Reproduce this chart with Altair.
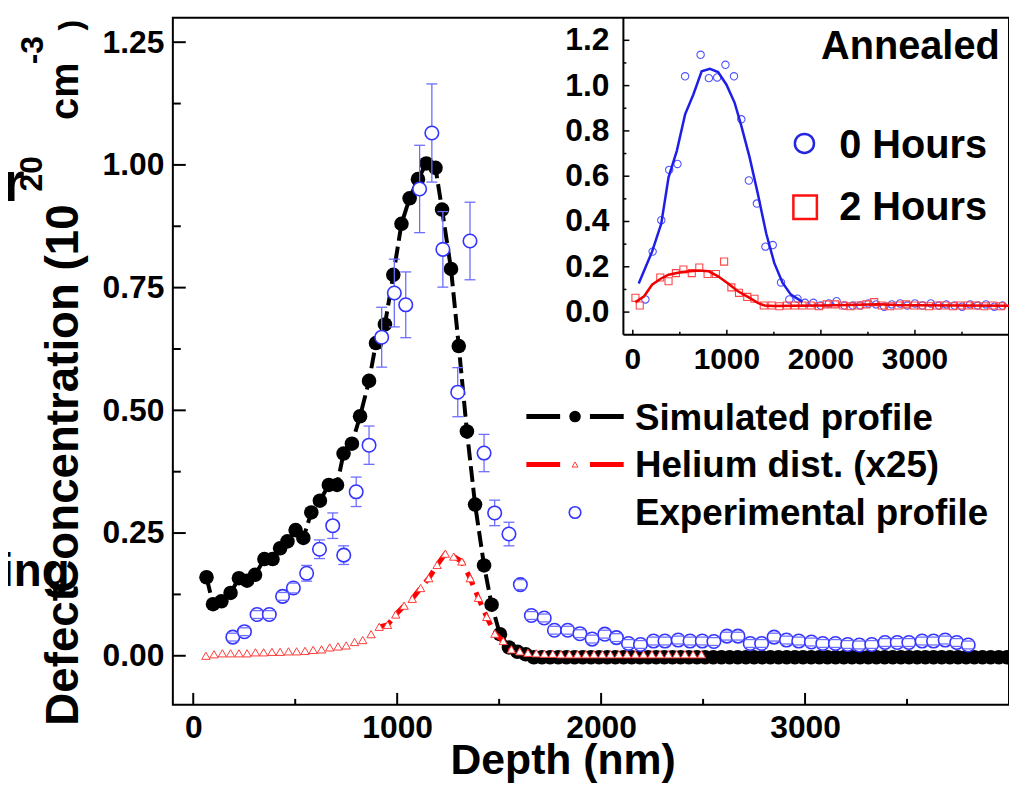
import altair as alt
import pandas as pd

FONT = "Liberation Sans"

# ---------------- main chart data ----------------
sim_x = [65, 97, 138, 183, 224, 264, 303, 349, 389, 426, 462, 502, 540, 579, 621, 665, 705, 737,
         778, 818, 862, 896, 940, 981, 1021, 1061, 1102, 1143, 1188, 1220, 1264, 1302, 1342, 1382,
         1426, 1463, 1504, 1548, 1590, 1630,
         1670, 1710, 1750, 1790, 1830, 1870, 1910, 1950, 1990, 2030, 2070, 2110, 2150, 2190, 2230,
         2270, 2310, 2350, 2390, 2430, 2470, 2510, 2550, 2590, 2630, 2670, 2710, 2750, 2790, 2830,
         2870, 2910, 2950, 2990, 3030, 3070, 3110, 3150, 3190, 3230, 3270, 3310, 3350, 3390, 3430,
         3470, 3510, 3550, 3590, 3630, 3670, 3710, 3750, 3790, 3830, 3870, 3910, 3950, 3990]
sim_y = [0.160, 0.105, 0.111, 0.128, 0.158, 0.153, 0.165, 0.197, 0.197, 0.219, 0.233, 0.256, 0.240,
         0.292, 0.316, 0.348, 0.348, 0.412, 0.432, 0.488, 0.560, 0.637, 0.675, 0.776, 0.880, 0.932,
         0.971, 1.003, 0.994, 0.909, 0.788, 0.631, 0.457, 0.308, 0.184, 0.104, 0.044, 0.017, 0.008,
         0.003,
         -0.003, -0.003, -0.003, -0.003, -0.003, -0.003, -0.003, -0.003, -0.003, -0.003, -0.003,
         -0.003, -0.003, -0.003, -0.003, -0.003, -0.003, -0.003, -0.003, -0.003, -0.003, -0.003,
         -0.003, -0.003, -0.003, -0.003, -0.003, -0.003, -0.003, -0.003, -0.003, -0.003, -0.003,
         -0.003, -0.003, -0.003, -0.003, -0.003, -0.003, -0.003, -0.003, -0.003, -0.003, -0.003,
         -0.003, -0.003, -0.003, -0.003, -0.003, -0.003, -0.003, -0.003, -0.003, -0.003, -0.003,
         -0.003, -0.003, -0.003, -0.003]

he_x = [62, 102, 143, 183, 224, 264, 305, 345, 386, 426, 467, 507, 548, 588, 629, 669, 710, 750,
        791, 831, 872, 912, 953, 993, 1034, 1074, 1115, 1155, 1196, 1236, 1277, 1317, 1358, 1398,
        1439, 1479, 1520, 1560, 1601, 1641, 1682, 1722, 1763, 1803, 1844, 1884, 1925, 1965, 2006,
        2046, 2087, 2127, 2168, 2208, 2249, 2289, 2330, 2370, 2411, 2451, 2492]
he_y = [0.000, 0.003, 0.005, 0.005, 0.005, 0.005, 0.007, 0.007, 0.008, 0.008, 0.009, 0.009, 0.010,
        0.012, 0.013, 0.017, 0.019, 0.021, 0.028, 0.032, 0.044, 0.059, 0.063, 0.084, 0.102, 0.116,
        0.138, 0.158, 0.185, 0.208, 0.202, 0.192, 0.158, 0.118, 0.079, 0.045, 0.030, 0.013, 0.009,
        0.006, 0.005, 0.004, 0.004, 0.003, 0.003, 0.003, 0.003, 0.003, 0.003, 0.003, 0.003, 0.003,
        0.003, 0.003, 0.003, 0.003, 0.003, 0.003, 0.003, 0.003, 0.003]
# the dashed helium curve is only visible where it leaves the markers
he_line_x = [912, 953, 993, 1034, 1074, 1115, 1155, 1196, 1236, 1277, 1317, 1358, 1398, 1439,
             1479, 1520, 1560]
he_line_y = [0.059, 0.063, 0.084, 0.102, 0.116, 0.138, 0.158, 0.185, 0.208, 0.202, 0.192, 0.158,
             0.118, 0.079, 0.045, 0.030, 0.013]

ex_x = [194, 251, 313, 373, 438, 491, 556, 619, 684, 738, 799, 862, 924, 986, 1042, 1110, 1170,
        1224, 1297, 1357, 1426, 1478, 1548, 1604, 1658, 1721, 1771, 1836, 1896, 1956, 2018, 2075,
        2134, 2193, 2257, 2313, 2378, 2436, 2496, 2553, 2617, 2671, 2731, 2787, 2848, 2909, 2969,
        3031, 3087, 3149, 3209, 3266, 3327, 3392, 3452, 3509, 3574, 3630, 3687, 3744, 3800]
ex_y = [0.038, 0.049, 0.084, 0.084, 0.121, 0.138, 0.168, 0.217, 0.265, 0.205, 0.334, 0.429,
        0.649, 0.739, 0.715, 0.951, 1.065, 0.828, 0.537, 0.845, 0.413, 0.291, 0.248, 0.145,
        0.082, 0.077, 0.052, 0.052, 0.045, 0.034, 0.044, 0.037, 0.025, 0.023, 0.030, 0.030,
        0.032, 0.030, 0.030, 0.029, 0.040, 0.040, 0.025, 0.025, 0.038, 0.032, 0.030, 0.028,
        0.025, 0.025, 0.023, 0.022, 0.023, 0.027, 0.027, 0.027, 0.030, 0.030, 0.032, 0.027, 0.022]
ex_err = [0.008, 0.008, 0.008, 0.008, 0.008, 0.010, 0.016, 0.019, 0.026, 0.019, 0.030, 0.039,
          0.061, 0.069, 0.067, 0.089, 0.100, 0.077, 0.050, 0.079, 0.038, 0.026, 0.024, 0.010,
          0.008, 0.008, 0.008, 0.008, 0.008, 0.008, 0.008, 0.008, 0.008, 0.008, 0.008, 0.008,
          0.008, 0.008, 0.008, 0.008, 0.008, 0.008, 0.008, 0.008, 0.008, 0.008, 0.008, 0.008,
          0.008, 0.008, 0.008, 0.008, 0.008, 0.008, 0.008, 0.008, 0.008, 0.008, 0.008, 0.008, 0.008]

main_x_ticks = [0, 1000, 2000, 3000]
main_x_minor = [500, 1500, 2500, 3500]
main_y_ticks = [0.0, 0.25, 0.5, 0.75, 1.0, 1.25]
main_y_minor = [0.125, 0.375, 0.625, 0.875, 1.125]

legend_labels = ["Simulated profile", "Helium dist. (x25)", "Experimental profile"]

# ---------------- inset data ----------------
ib_x = [134, 211, 303, 387, 475, 556, 721, 809, 897, 985, 1076, 1154, 1234, 1319, 1410, 1488, 1576,
        1664, 1751, 1831, 1920, 1998, 2085, 2167, 2251, 2339, 2420, 2507, 2588, 2673, 2753, 2842,
        2919, 3000, 3080, 3169, 3256, 3334, 3422, 3502, 3586, 3668, 3755, 3844, 3931]
ib_y = [0.056, 0.267, 0.406, 0.628, 0.654, 1.041, 1.136, 1.033, 1.036, 1.092, 1.041, 0.851, 0.581,
        0.479, 0.289, 0.296, 0.131, 0.056, 0.059, 0.041, 0.041, 0.029, 0.038, 0.048, 0.029, 0.029,
        0.029, 0.038, 0.034, 0.024, 0.034, 0.038, 0.029, 0.038, 0.029, 0.038, 0.029, 0.034, 0.029,
        0.024, 0.034, 0.029, 0.034, 0.024, 0.029]
bf_x = [63, 205, 303, 380, 468, 556, 644, 732, 820, 907, 996, 1083, 1154, 1242, 1329, 1418, 1505,
        1593, 1681, 1804]
bf_y = [0.126, 0.267, 0.391, 0.595, 0.712, 0.873, 0.961, 1.063, 1.074, 1.060, 1.004, 0.924, 0.822,
        0.683, 0.523, 0.348, 0.216, 0.129, 0.077, 0.045]

ir_x = [28, 74, 292, 380, 458, 538, 627, 707, 795, 883, 971, 1048, 1129, 1217, 1294, 1392, 1477,
        1558, 1639, 1723, 1804, 1892, 1980, 2061, 2149, 2237, 2314, 2402, 2483, 2567, 2648, 2736,
        2824, 2905, 2989, 3070, 3150, 3235, 3316, 3404, 3481, 3562, 3650, 3738, 3826, 3914]
ir_y = [0.063, 0.029, 0.153, 0.136, 0.172, 0.188, 0.172, 0.197, 0.168, 0.168, 0.223, 0.109, 0.085,
        0.067, 0.059, 0.029, 0.029, 0.026, 0.029, 0.029, 0.029, 0.029, 0.026, 0.034, 0.034, 0.029,
        0.026, 0.029, 0.034, 0.044, 0.029, 0.026, 0.029, 0.034, 0.029, 0.029, 0.026, 0.029, 0.029,
        0.026, 0.029, 0.029, 0.029, 0.026, 0.029, 0.026]
rf_x = [28, 120, 205, 292, 380, 521, 697, 809, 907, 1013, 1118, 1224, 1329, 1400, 1500, 1700, 2000,
        2300, 2500, 2600, 2800, 3000, 3500, 4000]
rf_y = [0.044, 0.070, 0.121, 0.146, 0.165, 0.177, 0.184, 0.180, 0.158, 0.126, 0.092, 0.067, 0.041,
        0.029, 0.027, 0.028, 0.029, 0.031, 0.034, 0.035, 0.031, 0.030, 0.029, 0.028]

in_x_ticks = [0, 1000, 2000, 3000]
in_x_minor = [500, 1500, 2500, 3500]
in_y_ticks = [0.0, 0.2, 0.4, 0.6, 0.8, 1.0, 1.2]
in_y_labels = ["0.0", "0.2", "0.4", "0.6", "0.8", "1.0", "1.2"]
in_y_minor = [0.1, 0.3, 0.5, 0.7, 0.9, 1.1]
in_legend = ["0 Hours", "2 Hours"]

# ---------------- layout constants ----------------
W, H = 842, 692
XD = [-100, 4000]
YD = [-0.1, 1.3]
IN_X0, IN_X1 = 453.7, 842
IN_Y1 = 319.3

BLUE = "#3434ff"
BLUE_ERR = "#6d6dff"
RED = "#ff0000"

xs = alt.Scale(domain=XD, nice=False, zero=False)
ys = alt.Scale(domain=YD, nice=False, zero=False)
x_axis = alt.Axis(values=main_x_ticks, format="d", labelFont=FONT, labelFontSize=32,
                  labelFontWeight="bold", labelColor="black", labelPadding=8, ticks=False,
                  tickSize=0, domain=False, grid=False, title=None, labelFlush=False,
                  labelOverlap=False)
y_axis = alt.Axis(values=main_y_ticks, format=".2f", labelFont=FONT, labelFontSize=32,
                  labelFontWeight="bold", labelColor="black", labelPadding=9, ticks=False,
                  tickSize=0, domain=False, grid=False, title=None, labelFlush=False,
                  labelOverlap=False)
X = alt.X("x:Q", scale=xs, axis=x_axis)
Y = alt.Y("y:Q", scale=ys, axis=y_axis)

sim_df = pd.DataFrame({"x": sim_x, "y": sim_y})
he_df = pd.DataFrame({"x": he_x, "y": he_y})
he_line_df = pd.DataFrame({"x": he_line_x, "y": he_line_y})
ex_df = pd.DataFrame({"x": ex_x, "y": ex_y, "err": ex_err})
ex_df["lo"] = ex_df["y"] - ex_df["err"]
ex_df["hi"] = ex_df["y"] + ex_df["err"]
ex_caps = pd.concat([pd.DataFrame({"x": ex_df["x"], "y": ex_df["lo"]}),
                     pd.DataFrame({"x": ex_df["x"], "y": ex_df["hi"]})])

# inward ticks (main)
ytk = alt.Chart(pd.DataFrame({"y": main_y_ticks})).mark_rule(color="black", strokeWidth=2).encode(
    y=Y, x=alt.value(0), x2=alt.value(13))
ytm = alt.Chart(pd.DataFrame({"y": main_y_minor})).mark_rule(color="black", strokeWidth=2).encode(
    y=Y, x=alt.value(0), x2=alt.value(8))
xtk = alt.Chart(pd.DataFrame({"x": main_x_ticks})).mark_rule(color="black", strokeWidth=2).encode(
    x=X, y=alt.value(H), y2=alt.value(H - 12))
xtm = alt.Chart(pd.DataFrame({"x": main_x_minor})).mark_rule(color="black", strokeWidth=2).encode(
    x=X, y=alt.value(H), y2=alt.value(H - 6))

sim_line = alt.Chart(sim_df).mark_line(color="black", strokeWidth=4, strokeDash=[16, 6]).encode(
    x=X, y=Y, order="x:Q")
sim_pts = alt.Chart(sim_df).mark_circle(color="black", size=215, opacity=1).encode(x=X, y=Y)
he_line = alt.Chart(he_line_df).mark_line(color=RED, strokeWidth=5, strokeDash=[14, 8]).encode(
    x=X, y=Y, order="x:Q")
he_pts = alt.Chart(he_df).mark_point(shape="triangle-up", filled=True, fill="white", stroke="#ff3a3a",
                                     strokeWidth=1, size=70, opacity=1).encode(x=X, y=Y)
err_rule = alt.Chart(ex_df).mark_rule(color=BLUE_ERR, strokeWidth=1.3).encode(
    x=X, y=alt.Y("lo:Q", scale=ys, axis=y_axis), y2="hi:Q")
ex_pts = alt.Chart(ex_df).mark_point(shape="circle", filled=True, fill="white", stroke=BLUE,
                                     strokeWidth=1.6, size=185, opacity=1).encode(x=X, y=Y)
caps = alt.Chart(ex_caps).mark_point(shape="M-1,0L1,0", filled=False, stroke=BLUE_ERR,
                                     strokeWidth=1.3, size=121, opacity=1).encode(x=X, y=Y)

# main legend
leg_y = [401.7, 450.0, 498.3]
leg_base = [415.0, 462.3, 511.0]
one = pd.DataFrame({"a": [0]})
lg1 = alt.Chart(one).mark_rule(color="black", strokeWidth=5, strokeDash=[34, 30]).encode(
    x=alt.value(356), x2=alt.value(454), y=alt.value(leg_y[0]))
lg1p = alt.Chart(one).mark_circle(color="black", size=135, opacity=1).encode(
    x=alt.value(405), y=alt.value(leg_y[0]))
lg2 = alt.Chart(one).mark_rule(color=RED, strokeWidth=5, strokeDash=[34, 30]).encode(
    x=alt.value(356), x2=alt.value(454), y=alt.value(leg_y[1]))
lg2p = alt.Chart(one).mark_point(shape="triangle-up", filled=True, fill="white",
                                 stroke="#ff3a3a", strokeWidth=1, size=35, opacity=1).encode(
    x=alt.value(405), y=alt.value(leg_y[1]))
lg3p = alt.Chart(one).mark_point(shape="circle", filled=True, fill="white", stroke=BLUE,
                                 strokeWidth=1.6, size=135, opacity=1).encode(
    x=alt.value(405), y=alt.value(leg_y[2]))
leg_texts = [
    alt.Chart(pd.DataFrame({"t": [legend_labels[i]]})).mark_text(
        font=FONT, fontSize=37, fontWeight="bold", align="left", baseline="alphabetic", color="black"
    ).encode(text="t:N", x=alt.value(465.3), y=alt.value(leg_base[i]))
    for i in range(3)
]


def txt(s, x, y, size, angle=0, align="left"):
    return alt.Chart(pd.DataFrame({"t": [s]})).mark_text(
        font=FONT, fontSize=size, fontWeight="bold", align=align, baseline="alphabetic",
        angle=angle, color="black").encode(text="t:N", x=alt.value(x), y=alt.value(y))


titles = [
    txt("Depth (nm)", 393, 762, 43, align="center"),
    txt("Defect", -96, 713, 46, angle=270),
    txt("Concentration (10", -96, 579, 46, angle=270),
    txt("20", -132, 175, 32, angle=270),
    txt("cm", -96, 103, 40, angle=270),
    txt("-3", -131, 47, 32, angle=270),
    txt(")", -92, 13, 32, angle=270),
    txt("r", -171, 185, 56),
    txt("ing", -104, 572, 46, align="right"),
    txt("Annealed", 832.7, 41.7, 40, align="right"),
    txt(in_legend[0], 671, 141, 40),
    txt(in_legend[1], 671, 203.3, 40),
]
in_leg_c = alt.Chart(one).mark_point(shape="circle", filled=False, stroke="#2626e0",
                                     strokeWidth=2.5, size=370, opacity=1).encode(
    x=alt.value(636), y=alt.value(126.7))
in_leg_s = alt.Chart(one).mark_point(shape="square", filled=False, stroke="#ff1010",
                                     strokeWidth=2.5, size=560, opacity=1).encode(
    x=alt.value(636.7), y=alt.value(191))

main = alt.layer(ytk, ytm, xtk, xtm, sim_line, sim_pts, he_line, he_pts, err_rule, ex_pts, caps,
                 lg1, lg1p, lg2, lg2p, lg3p, *leg_texts, *titles, in_leg_c, in_leg_s)

# ---------------- inset ----------------
ixs = alt.Scale(domain=XD, range=[IN_X0, IN_X1], nice=False, zero=False)
iys = alt.Scale(domain=YD, range=[IN_Y1, 0], nice=False, zero=False)
IX = alt.X("x:Q", scale=ixs, axis=None)
IY = alt.Y("y:Q", scale=iys, axis=None)

frame_l = alt.Chart(pd.DataFrame({"x": [XD[0]], "y": [YD[0]], "y2": [YD[1]]})).mark_rule(
    color="black", strokeWidth=2).encode(x=IX, y=IY, y2="y2:Q")
frame_b = alt.Chart(pd.DataFrame({"x": [XD[0]], "x2": [XD[1]], "y": [YD[0]]})).mark_rule(
    color="black", strokeWidth=2).encode(x=IX, x2="x2:Q", y=IY)
iytk = alt.Chart(pd.DataFrame({"y": in_y_ticks})).mark_rule(color="black", strokeWidth=1.5).encode(
    y=IY, x=alt.value(IN_X0), x2=alt.value(IN_X0 + 6))
iytm = alt.Chart(pd.DataFrame({"y": in_y_minor})).mark_rule(color="black", strokeWidth=1.5).encode(
    y=IY, x=alt.value(IN_X0), x2=alt.value(IN_X0 + 3))
ixtk = alt.Chart(pd.DataFrame({"x": in_x_ticks})).mark_rule(color="black", strokeWidth=1.5).encode(
    x=IX, y=alt.value(IN_Y1), y2=alt.value(IN_Y1 - 5))
ixtm = alt.Chart(pd.DataFrame({"x": in_x_minor})).mark_rule(color="black", strokeWidth=1.5).encode(
    x=IX, y=alt.value(IN_Y1), y2=alt.value(IN_Y1 - 3))
iylab = alt.Chart(pd.DataFrame({"y": in_y_ticks, "t": in_y_labels})).mark_text(
    font=FONT, fontSize=32, fontWeight="bold", align="right", baseline="middle", color="black").encode(
    y=IY, x=alt.value(IN_X0 - 14), text="t:N")
ixlab = alt.Chart(pd.DataFrame({"x": in_x_ticks, "t": [str(v) for v in in_x_ticks]})).mark_text(
    font=FONT, fontSize=30, fontWeight="bold", align="center", baseline="top", color="black").encode(
    x=IX, y=alt.value(IN_Y1 + 10), text="t:N")

ib_pts = alt.Chart(pd.DataFrame({"x": ib_x, "y": ib_y})).mark_point(
    shape="circle", filled=False, stroke="#5252ff", strokeWidth=1.1, size=55, opacity=1).encode(x=IX, y=IY)
ir_pts = alt.Chart(pd.DataFrame({"x": ir_x, "y": ir_y})).mark_point(
    shape="square", filled=False, stroke="#ff4545", strokeWidth=1.1, size=50, opacity=1).encode(x=IX, y=IY)
bf_line = alt.Chart(pd.DataFrame({"x": bf_x, "y": bf_y})).mark_line(
    color="#1e1ee6", strokeWidth=2.5).encode(x=IX, y=IY, order="x:Q")
rf_line = alt.Chart(pd.DataFrame({"x": rf_x, "y": rf_y})).mark_line(
    color="#f00000", strokeWidth=2.5).encode(x=IX, y=IY, order="x:Q")

inset = alt.layer(frame_l, frame_b, iytk, iytm, ixtk, ixtm, iylab, ixlab, ib_pts, ir_pts,
                  bf_line, rf_line)

chart = alt.layer(main, inset).resolve_scale(x="independent", y="independent").properties(
    width=W, height=H,
    autosize=alt.AutoSizeParams(type="none"),
    padding={"left": 166, "top": 7, "right": 0, "bottom": 80},
).configure_view(stroke="black", strokeWidth=2)

chart.save("out.html", embed_options={"renderer": "svg", "actions": False})
